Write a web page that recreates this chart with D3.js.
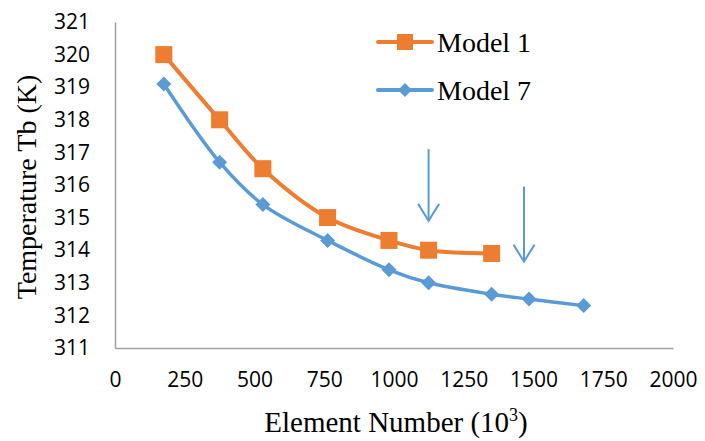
<!DOCTYPE html>
<html>
<head>
<meta charset="utf-8">
<script src="https://cdn.jsdelivr.net/npm/d3@7"></script>
<style>
  body { margin: 0; background: #fff; }
  .tick text { font-family: "Open Sans", sans-serif; font-size: 21px; fill: #000; }
</style>
</head>
<body>
<svg id="chart"></svg>
<script>
const elements1 = [175, 375, 530, 762, 982, 1124, 1350];
const temps1 = [320.0, 318.0, 316.5, 315.0, 314.3, 314.0, 313.9];
const elements7 = [175, 375, 530, 762, 982, 1124, 1350, 1484, 1680];
const temps7 = [319.1, 316.7, 315.4, 314.3, 313.4, 313.0, 312.65, 312.5, 312.3];
const xTicks = [0, 250, 500, 750, 1000, 1250, 1500, 1750, 2000];
const yTicks = [311, 312, 313, 314, 315, 316, 317, 318, 319, 320, 321];
const seriesNames = ["Model 1", "Model 7"];
// arrows: [element, from temp, to temp]
const arrows = [[1124, 317.1, 314.9], [1466, 315.95, 313.65]];

const orange = "#ED7D31";
const blue = "#5B9BD5";
const chartObj = { width: 705, height: 441, left: 115, right: 673, top: 22, bottom: 348 };

const svg = d3.select("#chart")
  .attr("width", chartObj.width)
  .attr("height", chartObj.height);

const x = d3.scaleLinear().domain([0, 2000]).range([chartObj.left, chartObj.right]);
const y = d3.scaleLinear().domain([311, 321]).range([chartObj.bottom, chartObj.top]);

const xAxis = svg.append("g")
  .attr("transform", `translate(0, ${chartObj.bottom})`)
  .call(d3.axisBottom(x).tickValues(xTicks).tickSize(0).tickPadding(24).tickFormat(d3.format("d")));
xAxis.select(".domain").attr("stroke", "#a0a0a0").attr("stroke-width", 1.5);

const yAxis = svg.append("g")
  .attr("transform", `translate(${chartObj.left}, 0)`)
  .call(d3.axisLeft(y).tickValues(yTicks).tickSize(0).tickPadding(25).tickFormat(d3.format("d")));
yAxis.select(".domain").attr("stroke", "#a0a0a0").attr("stroke-width", 1.5);

const line = d3.line()
  .x(d => x(d[0]))
  .y(d => y(d[1]))
  .curve(d3.curveCatmullRom.alpha(0.5));

const data1 = elements1.map((e, i) => [e, temps1[i]]);
const data7 = elements7.map((e, i) => [e, temps7[i]]);

svg.append("path")
  .attr("d", line(data7))
  .attr("fill", "none")
  .attr("stroke", blue)
  .attr("stroke-width", 3.5);

svg.selectAll(".diamond")
  .data(data7)
  .join("path")
  .attr("class", "diamond")
  .attr("d", "M0,-7.5L7.5,0L0,7.5L-7.5,0Z")
  .attr("transform", d => `translate(${x(d[0])}, ${y(d[1])})`)
  .attr("fill", blue);

svg.append("path")
  .attr("d", line(data1))
  .attr("fill", "none")
  .attr("stroke", orange)
  .attr("stroke-width", 4);

svg.selectAll(".square")
  .data(data1)
  .join("rect")
  .attr("class", "square")
  .attr("x", d => x(d[0]) - 8.5)
  .attr("y", d => y(d[1]) - 8.5)
  .attr("width", 17)
  .attr("height", 17)
  .attr("fill", orange);

// arrows
arrows.forEach(a => {
  const ax = x(a[0]);
  const y1 = y(a[1]);
  const y2 = y(a[2]);
  svg.append("line")
    .attr("x1", ax).attr("y1", y1)
    .attr("x2", ax).attr("y2", y2)
    .attr("stroke", blue)
    .attr("stroke-width", 2);
  svg.append("path")
    .attr("d", `M${ax - 10.5},${y2 - 17}L${ax},${y2}L${ax + 10.5},${y2 - 17}`)
    .attr("fill", "none")
    .attr("stroke", blue)
    .attr("stroke-width", 2);
});

// legend
const legend = svg.append("g");
seriesNames.forEach((name, i) => {
  const ly = 42 + i * 48;
  const col = i === 0 ? orange : blue;
  legend.append("line")
    .attr("x1", 378).attr("x2", 432)
    .attr("y1", ly).attr("y2", ly)
    .attr("stroke", col)
    .attr("stroke-width", 4)
    .attr("stroke-linecap", "round");
  if (i === 0) {
    legend.append("rect")
      .attr("x", 405 - 8).attr("y", ly - 8)
      .attr("width", 16).attr("height", 16)
      .attr("fill", col);
  } else {
    legend.append("path")
      .attr("d", "M0,-7L7,0L0,7L-7,0Z")
      .attr("transform", `translate(405, ${ly})`)
      .attr("fill", col);
  }
  legend.append("text")
    .attr("x", 437)
    .attr("y", ly + 10)
    .style("font-family", "'Liberation Serif', serif")
    .style("font-size", "28px")
    .text(name);
});

// axis titles
const xTitle = svg.append("text")
  .attr("x", (chartObj.left + chartObj.right) / 2 + 2)
  .attr("y", 432)
  .attr("text-anchor", "middle")
  .style("font-family", "'Liberation Serif', serif")
  .style("font-size", "29px");
xTitle.append("tspan").text("Element Number (10");
xTitle.append("tspan").attr("dy", -11).style("font-size", "18px").text("3");
xTitle.append("tspan").attr("dy", 11).text(")");

svg.append("text")
  .attr("transform", "translate(36, 187) rotate(-90)")
  .attr("text-anchor", "middle")
  .style("font-family", "'Liberation Serif', serif")
  .style("font-size", "28px")
  .text("Temperature Tb (K)");
</script>
</body>
</html>
